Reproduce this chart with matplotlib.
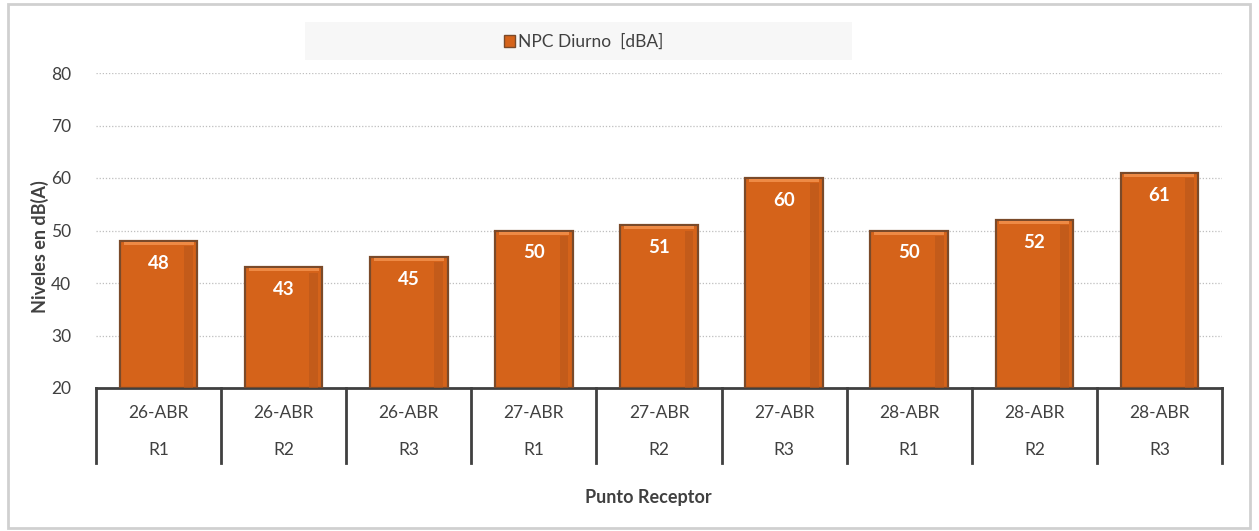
import numpy as np
import matplotlib.pyplot as plt
from matplotlib.patches import Rectangle, Patch
import matplotlib.transforms as mtrans

fechas = ["26-ABR", "26-ABR", "26-ABR", "27-ABR", "27-ABR", "27-ABR", "28-ABR", "28-ABR", "28-ABR"]
receptores = ["R1", "R2", "R3", "R1", "R2", "R3", "R1", "R2", "R3"]
npc_diurno = [48, 43, 45, 50, 51, 60, 50, 52, 61]

plt.rcParams['font.family'] = ['Lato', 'DejaVu Sans']

fig = plt.figure(figsize=(12.59, 5.31), dpi=100)
ax = fig.add_axes([96/1259, 1 - 388/531, (1222-96)/1259, (388-73)/531])

# outer frame
fig.patches.append(Rectangle((8/1259, 3/531), 1242/1259, 524/531, transform=fig.transFigure,
                             fill=False, edgecolor='#d0d0d0', lw=2))
# legend background
fig.patches.append(Rectangle((305/1259, 1 - 60/531), 547/1259, 38/531, transform=fig.transFigure,
                             facecolor='#f7f7f7', edgecolor='none'))

x = np.arange(len(npc_diurno))
base = 20
vals = np.array(npc_diurno)
ax.bar(x, vals - base, bottom=base, width=0.62, color='#d5631a', edgecolor='#7a4a2a', lw=1.6, zorder=3)
# light strip at bar top
ax.bar(x, np.full(len(vals), 0.6), bottom=vals - 0.8, width=0.56, color='#ee8a45', lw=0, zorder=4)
# slightly darker right side
ax.bar(x + 0.24, vals - base - 1.0, bottom=base, width=0.07, color='#b8561a', lw=0, zorder=4, alpha=0.6)

for xi, v in zip(x, vals):
    ax.annotate(str(v), (xi, v), xytext=(0, -10), textcoords='offset points',
                ha='center', va='top', color='white', fontweight='bold', fontsize=13.5, zorder=5)

ax.set_ylim(20, 80)
ax.set_xlim(-0.5, len(vals) - 0.5)
ax.set_yticks(range(20, 81, 10))
ax.tick_params(axis='y', length=0, labelsize=12.5, colors='#404040', pad=18)
ax.set_xticks([])
for s in ['top', 'right', 'left']:
    ax.spines[s].set_visible(False)
ax.spines['bottom'].set_color('#404040')
ax.spines['bottom'].set_linewidth(2)
for yv in range(30, 81, 10):
    ax.axhline(yv, color='#bfbfbf', lw=0.9, ls=(0, (1, 1.5)), zorder=1)

# multi-level category axis
tr = mtrans.blended_transform_factory(ax.transData, ax.transAxes)
for b in np.arange(-0.5, len(vals), 1.0):
    ax.plot([b, b], [0, -75/315], color='#404040', lw=2, transform=tr, clip_on=False)
for xi, f, r in zip(x, fechas, receptores):
    ax.text(xi, -25/315, f, transform=tr, ha='center', va='center', fontsize=12.5, color='#404040')
    ax.text(xi, -62/315, r, transform=tr, ha='center', va='center', fontsize=12.5, color='#404040')

fig.text(648/1259, 1 - 497/531, "Punto Receptor", ha='center', va='center',
         fontsize=13, fontweight='bold', color='#404040')
fig.text(40/1259, 1 - 247/531, "Niveles en dB(A)", ha='center', va='center', rotation=90,
         fontsize=13, fontweight='bold', color='#404040')

fig.legend(handles=[Patch(facecolor='#d5631a', edgecolor='#7a4a2a', label='NPC Diurno  [dBA]')],
           loc='center', bbox_to_anchor=(584/1259, 1 - 42/531), frameon=False, fontsize=12.5,
           handlelength=0.6, handleheight=0.6, handletextpad=0.2, labelcolor='#404040')

fig.savefig("out.png", dpi=100)
